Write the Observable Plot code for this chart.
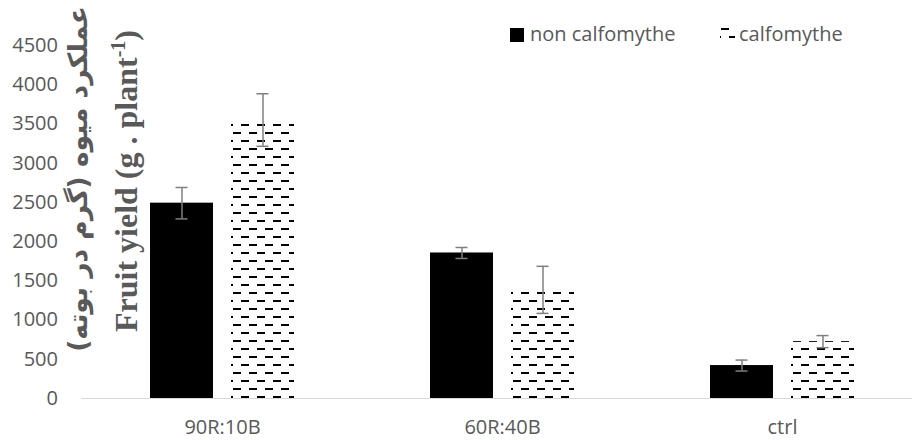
<!DOCTYPE html>
<html>
<head>
<meta charset="utf-8">
<script src="https://cdn.jsdelivr.net/npm/d3@7"></script>
<script src="https://cdn.jsdelivr.net/npm/@observablehq/plot@0.6"></script>
<style>
  html, body { margin: 0; padding: 0; background: white; overflow: hidden; }
</style>
</head>
<body>
<div id="chart"></div>
<script>
const categories = ["90R:10B", "60R:40B", "ctrl"];
const seriesNames = ["non calfomythe", "calfomythe"];
const nonCalfomythe = [2490, 1855, 420];
const nonCalfomytheErr = [200, 70, 70];
const calfomythe = [3550, 1385, 725];
const calfomytheErr = [335, 300, 77];
const yTicks = [0, 500, 1000, 1500, 2000, 2500, 3000, 3500, 4000, 4500];
const yTitleEn = "Fruit yield (g . plant";
const yTitleEnSup = "-1";
const yTitleFa = "عملکرد میوه (گرم در بوته)";

const nonRows = categories.map((c, i) => ({category: c, series: seriesNames[0], value: nonCalfomythe[i], lo: nonCalfomythe[i] - nonCalfomytheErr[i], hi: nonCalfomythe[i] + nonCalfomytheErr[i]}));
const calRows = categories.map((c, i) => ({category: c, series: seriesNames[1], value: calfomythe[i], lo: calfomythe[i] - calfomytheErr[i], hi: calfomythe[i] + calfomytheErr[i]}));

const errStroke = "#7f7f7f";

const chart = Plot.plot({
  width: 912,
  height: 440,
  marginTop: 45,
  marginBottom: 42,
  marginLeft: 81.5,
  marginRight: 0,
  style: {fontFamily: "Open Sans", fontSize: "20px", color: "#595959", background: "white", overflow: "visible"},
  x: {domain: categories, range: [81.5, 921.5], padding: 0, tickSize: 0, tickPadding: 21, label: null},
  y: {domain: [0, 4500], ticks: yTicks, tickFormat: d => String(d), tickSize: 0, tickPadding: 24, label: null},
  marks: [
    Plot.ruleY([0], {stroke: "#d9d9d9", strokeWidth: 1}),
    Plot.barY(nonRows, {x: "category", y: "value", fill: "black", insetLeft: 68, insetRight: 149}),
    Plot.barY(calRows, {x: "category", y: "value", fill: "url(#dash)", insetLeft: 149, insetRight: 68}),
    Plot.ruleX(nonRows, {x: "category", y1: "lo", y2: "hi", dx: -40.5, stroke: errStroke, strokeWidth: 1.5}),
    Plot.ruleX(calRows, {x: "category", y1: "lo", y2: "hi", dx: 40.5, stroke: errStroke, strokeWidth: 1.5}),
    Plot.tickY(nonRows, {x: "category", y: "hi", insetLeft: 93.5, insetRight: 174.5, stroke: errStroke, strokeWidth: 1.5}),
    Plot.tickY(nonRows, {x: "category", y: "lo", insetLeft: 93.5, insetRight: 174.5, stroke: errStroke, strokeWidth: 1.5}),
    Plot.tickY(calRows, {x: "category", y: "hi", insetLeft: 174.5, insetRight: 93.5, stroke: errStroke, strokeWidth: 1.5}),
    Plot.tickY(calRows, {x: "category", y: "lo", insetLeft: 174.5, insetRight: 93.5, stroke: errStroke, strokeWidth: 1.5})
  ]
});

document.getElementById("chart").appendChild(chart);

const svg = d3.select(chart);
const defs = svg.insert("defs", ":first-child");
const pat = defs.append("pattern")
  .attr("id", "dash")
  .attr("patternUnits", "userSpaceOnUse")
  .attr("width", 16).attr("height", 16)
  .attr("patternTransform", "translate(1,4)");
pat.append("rect").attr("x", 8).attr("y", 0).attr("width", 8).attr("height", 2).attr("fill", "black");
pat.append("rect").attr("x", 0).attr("y", 8).attr("width", 8).attr("height", 2).attr("fill", "black");

// Y-axis titles
const en = svg.append("text")
  .attr("transform", "translate(137,181) rotate(-90)")
  .attr("text-anchor", "middle")
  .attr("font-family", "'Liberation Serif', 'Times New Roman', serif")
  .attr("font-weight", "bold")
  .attr("font-size", 32)
  .attr("fill", "#595959");
en.append("tspan").text(yTitleEn);
en.append("tspan").attr("font-size", 20).attr("dy", -12).text(yTitleEnSup);
en.append("tspan").attr("dy", 12).text(")");

svg.append("text")
  .attr("transform", "translate(87,179) rotate(-90)")
  .attr("text-anchor", "middle")
  .attr("direction", "rtl")
  .attr("font-family", "'DejaVu Sans', sans-serif")
  .attr("font-weight", "bold")
  .attr("font-size", 26.5)
  .attr("fill", "#595959")
  .text(yTitleFa);

// Legend
const lg = svg.append("g").attr("font-family", "Open Sans").attr("font-size", 20).attr("fill", "#595959").attr("text-anchor", "start");
lg.append("rect").attr("x", 510).attr("y", 28).attr("width", 14).attr("height", 14).attr("fill", "black");
lg.append("text").attr("x", 530).attr("y", 41).attr("text-anchor", "start").text(seriesNames[0]);
lg.append("rect").attr("x", 720).attr("y", 27).attr("width", 15).attr("height", 15).attr("fill", "url(#dash)");
lg.append("text").attr("x", 739).attr("y", 41).attr("text-anchor", "start").text(seriesNames[1]);
</script>
</body>
</html>
